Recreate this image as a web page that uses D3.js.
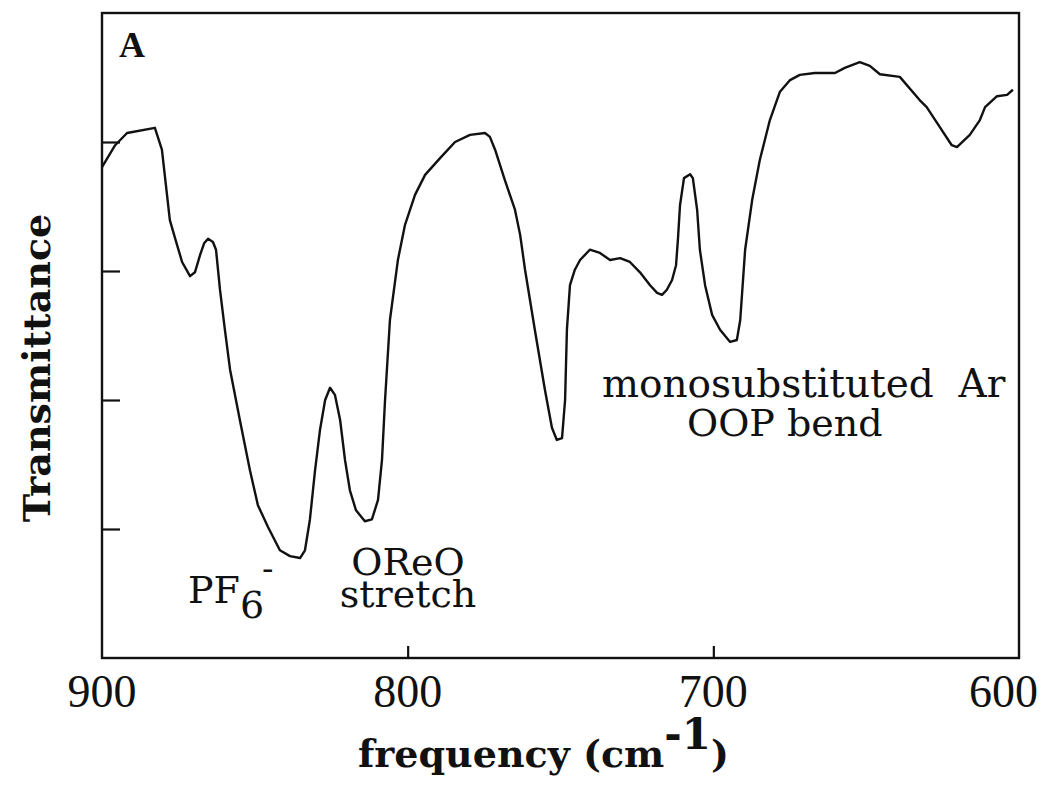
<!DOCTYPE html>
<html>
<head>
<meta charset="utf-8">
<script src="https://cdn.jsdelivr.net/npm/d3@7"></script>
<style>
  html, body { margin: 0; padding: 0; background: #fff; }
  svg { display: block; }
  text { fill: #111; }
</style>
</head>
<body>
<svg id="chart" width="1048" height="785"></svg>
<script>
// IR spectrum, panel A: wavenumber (cm^-1) vs. transmittance (arbitrary %)
const frequency = [
  900.0, 895.7, 891.8, 882.7, 880.4, 877.8, 876.1, 873.8, 871.2, 869.6,
  867.9, 866.6, 865.3, 863.7, 862.7, 861.4, 859.8, 858.1, 854.9, 851.6,
  849.0, 845.7, 841.8, 838.5, 835.2, 833.6, 832.0, 830.3, 828.7, 827.0,
  825.4, 823.8, 822.1, 820.5, 818.9, 816.9, 814.0, 811.7, 809.7, 808.4,
  807.4, 805.8, 803.2, 800.9, 797.6, 794.3, 789.4, 784.5, 779.6, 774.7,
  773.1, 771.4, 768.2, 764.9, 763.2, 761.6, 758.4, 755.1, 752.8, 751.2,
  749.5, 748.5, 747.9, 746.9, 745.3, 743.6, 740.4, 737.1, 733.8, 730.5,
  727.3, 724.0, 720.7, 718.4, 716.8, 715.2, 713.5, 712.2, 711.6, 710.9,
  709.6, 707.6, 706.7, 705.3, 704.4, 702.7, 700.4, 697.8, 694.5, 692.3,
  691.2, 689.6, 687.3, 684.8, 681.5, 678.2, 674.9, 671.7, 666.8, 660.2,
  657.0, 652.1, 648.8, 645.5, 639.0, 632.5, 630.2, 625.9, 622.0, 620.3,
  616.1, 612.8, 611.1, 607.2, 603.9, 602.0
];
const transmittance = [
  76.1, 79.5, 81.4, 82.2, 78.8, 67.9, 65.1, 61.4, 59.2, 59.8,
  62.5, 64.3, 65.0, 64.5, 63.3, 57.1, 50.9, 44.7, 36.9, 29.1,
  23.7, 20.3, 16.7, 15.8, 15.5, 16.7, 21.4, 29.1, 35.3, 40.0,
  41.9, 40.8, 36.9, 30.7, 26.0, 22.9, 21.2, 21.5, 24.5, 30.7,
  40.0, 52.4, 61.7, 67.1, 71.8, 74.9, 77.5, 80.0, 81.1, 81.4,
  80.8, 78.8, 74.1, 69.5, 65.6, 60.2, 50.9, 41.6, 35.7, 33.8,
  34.1, 40.0, 50.9, 57.8, 60.2, 61.7, 63.3, 62.8, 61.7, 62.0,
  61.4, 59.8, 57.8, 56.6, 56.3, 57.1, 58.6, 60.9, 64.8, 70.2,
  74.4, 75.0, 74.4, 69.5, 63.3, 57.8, 53.2, 50.9, 49.0, 49.3,
  52.4, 63.3, 71.0, 77.2, 83.4, 87.8, 89.6, 90.4, 90.7, 90.7,
  91.5, 92.4, 91.8, 90.5, 90.1, 86.5, 85.4, 82.3, 79.5, 79.2,
  81.1, 83.4, 85.4, 87.1, 87.3, 88.1
];
const xTickValues = [900, 800, 700, 600];
const xInnerTicks = [800, 700];
const yTickValues = [20, 40, 60, 80];

const svg = d3.select("#chart");
const margin = { left: 102, right: 1048 - 1019, top: 13, bottom: 785 - 658 };
const W = 1048, H = 785;

const x = d3.scaleLinear().domain([900, 600]).range([margin.left, W - margin.right]);
const y = d3.scaleLinear().domain([0, 100]).range([H - margin.bottom, margin.top]);

const serif = "'DejaVu Serif', serif";
const times = "'Liberation Serif', 'Times New Roman', serif";
const ink = "#111";

// frame
svg.append("rect")
  .attr("x", x(900)).attr("y", y(100))
  .attr("width", x(600) - x(900)).attr("height", y(0) - y(100))
  .attr("fill", "none").attr("stroke", ink).attr("stroke-width", 2.4);

// inward ticks on the left axis
svg.append("g")
  .attr("transform", `translate(${x(900)},0)`)
  .call(d3.axisRight(y).tickValues(yTickValues).tickSize(18).tickFormat(""))
  .call(g => g.select(".domain").remove())
  .call(g => g.selectAll("line").attr("stroke", ink).attr("stroke-width", 2.2));

// inward ticks on the bottom axis
svg.append("g")
  .attr("transform", `translate(0,${y(0)})`)
  .call(d3.axisTop(x).tickValues(xInnerTicks).tickSize(12).tickFormat(""))
  .call(g => g.select(".domain").remove())
  .call(g => g.selectAll("line").attr("stroke", ink).attr("stroke-width", 2.2));

// tick labels below the frame
svg.append("g")
  .selectAll("text")
  .data(xTickValues)
  .join("text")
  .attr("x", (d, i) => i === xTickValues.length - 1 ? x(d) + 19 : x(d))
  .attr("y", 707)
  .attr("text-anchor", (d, i) => i === xTickValues.length - 1 ? "end" : "middle")
  .attr("font-family", times)
  .attr("font-size", 46)
  .text(d => d);

// spectrum trace
const pts = frequency.map((f, i) => [f, transmittance[i]]);
svg.append("path")
  .datum(pts)
  .attr("fill", "none")
  .attr("stroke", ink)
  .attr("stroke-width", 2.4)
  .attr("stroke-linejoin", "round")
  .attr("d", d3.line().x(d => x(d[0])).y(d => y(d[1])));

// panel letter
svg.append("text")
  .attr("x", 119).attr("y", 57)
  .attr("font-family", times).attr("font-weight", "bold").attr("font-size", 36)
  .text("A");

// axis titles
svg.append("text")
  .attr("transform", "translate(50,368) rotate(-90)")
  .attr("text-anchor", "middle")
  .attr("font-family", serif).attr("font-weight", "bold").attr("font-size", 38)
  .text("Transmittance");

const xt = svg.append("text")
  .attr("x", 358).attr("y", 767)
  .attr("font-family", serif).attr("font-weight", "bold").attr("font-size", 38);
xt.append("tspan").text("frequency (cm");
xt.append("tspan").attr("dy", -18).attr("font-size", 42).text("-1");
xt.append("tspan").attr("dy", 18).text(")");

// band annotations
const pf = svg.append("text")
  .attr("x", 188).attr("y", 603)
  .attr("font-family", serif).attr("font-size", 38);
pf.append("tspan").text("PF");
pf.append("tspan").attr("dy", 15).text("6");
svg.append("text")
  .attr("x", 262).attr("y", 580)
  .attr("font-family", serif).attr("font-size", 34)
  .text("-");

svg.append("text")
  .attr("x", 408).attr("y", 575).attr("text-anchor", "middle")
  .attr("font-family", serif).attr("font-size", 38)
  .text("OReO");
svg.append("text")
  .attr("x", 408).attr("y", 607).attr("text-anchor", "middle")
  .attr("font-family", serif).attr("font-size", 38)
  .text("stretch");

svg.append("text")
  .attr("x", 602).attr("y", 397)
  .attr("font-family", serif).attr("font-size", 39)
  .style("white-space", "pre")
  .text("monosubstituted  Ar");
svg.append("text")
  .attr("x", 687).attr("y", 436)
  .attr("font-family", serif).attr("font-size", 38)
  .text("OOP bend");
</script>
</body>
</html>
